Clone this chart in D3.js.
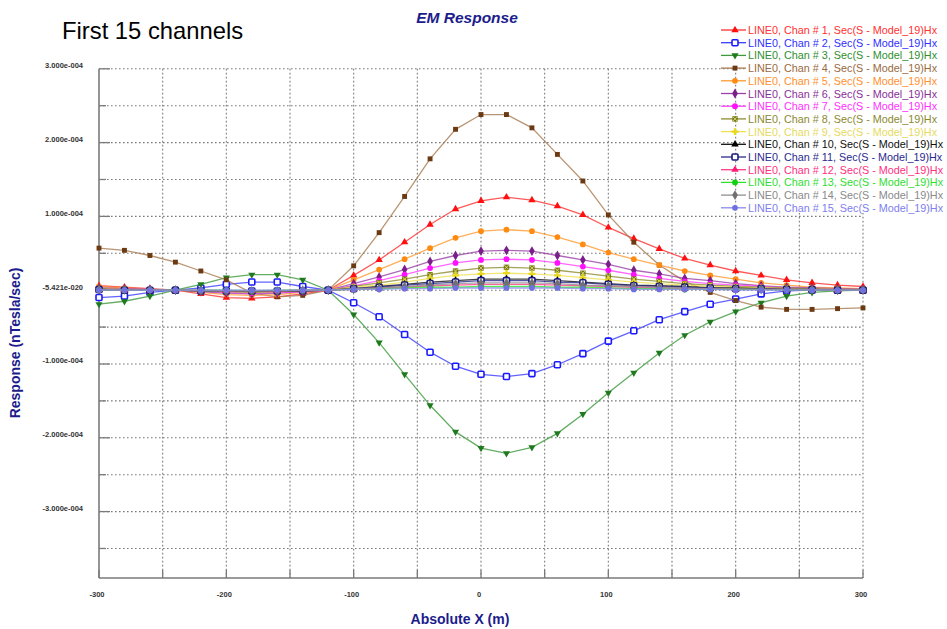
<!DOCTYPE html>
<html>
<head>
<meta charset="utf-8">
<script src="https://cdn.jsdelivr.net/npm/d3@7"></script>
<style>
  html, body { margin: 0; padding: 0; background: #fff; }
  svg { display: block; }
</style>
</head>
<body>
<svg id="chart" width="947" height="629"></svg>
<script>
// Profile positions (m)
const xPositions = [-300,-280,-260,-240,-220,-200,-180,-160,-140,-120,-100,-80,-60,-40,-20,0,20,40,60,80,100,120,140,160,180,200,220,240,260,280,300];

// Secondary Hx response per channel, in units of 1e-4 nT/s
const chan1  = [0.06,0.04,0.02,0.00,-0.05,-0.10,-0.11,-0.09,-0.05,0.00,0.20,0.41,0.65,0.89,1.10,1.21,1.26,1.22,1.14,1.02,0.85,0.70,0.56,0.43,0.34,0.26,0.20,0.14,0.10,0.07,0.05];
const chan2  = [-0.10,-0.08,-0.03,0.00,0.03,0.08,0.11,0.11,0.05,0.00,-0.17,-0.36,-0.60,-0.84,-1.03,-1.14,-1.17,-1.13,-1.01,-0.86,-0.69,-0.55,-0.40,-0.29,-0.19,-0.12,-0.05,-0.01,0.00,0.00,0.00];
const chan3  = [-0.19,-0.15,-0.08,0.00,0.08,0.17,0.21,0.21,0.14,0.00,-0.33,-0.71,-1.14,-1.56,-1.92,-2.14,-2.21,-2.13,-1.94,-1.68,-1.39,-1.12,-0.85,-0.61,-0.43,-0.29,-0.17,-0.08,-0.03,-0.01,0.00];
const chan4  = [0.57,0.54,0.47,0.38,0.26,0.14,-0.04,-0.09,-0.07,0.00,0.33,0.78,1.27,1.78,2.18,2.38,2.38,2.20,1.84,1.48,1.02,0.65,0.34,0.12,-0.03,-0.14,-0.23,-0.26,-0.26,-0.25,-0.24];
const chan5  = [0.05,0.03,0.01,0.00,-0.03,-0.06,-0.07,-0.06,-0.03,0.00,0.14,0.28,0.42,0.57,0.71,0.80,0.82,0.80,0.72,0.62,0.51,0.42,0.34,0.26,0.20,0.15,0.10,0.07,0.04,0.03,0.02];
const chan6  = [0.03,0.02,0.01,0.00,-0.02,-0.04,-0.05,-0.04,-0.02,0.00,0.09,0.18,0.28,0.39,0.47,0.53,0.54,0.53,0.47,0.41,0.35,0.27,0.22,0.16,0.13,0.09,0.06,0.04,0.03,0.02,0.01];
const chan7  = [0.02,0.01,0.01,0.00,-0.01,-0.03,-0.04,-0.03,-0.02,0.00,0.06,0.13,0.21,0.30,0.37,0.41,0.42,0.41,0.37,0.32,0.27,0.21,0.16,0.12,0.09,0.07,0.05,0.03,0.02,0.01,0.01];
const chan8  = [0.02,0.01,0.00,0.00,-0.01,-0.02,-0.03,-0.02,-0.01,0.00,0.05,0.10,0.15,0.21,0.26,0.30,0.31,0.30,0.27,0.23,0.19,0.15,0.12,0.09,0.07,0.05,0.04,0.03,0.02,0.01,0.01];
const chan9  = [0.01,0.01,0.00,0.00,-0.01,-0.02,-0.02,-0.02,-0.01,0.00,0.04,0.07,0.11,0.16,0.20,0.22,0.23,0.22,0.20,0.17,0.14,0.11,0.09,0.07,0.05,0.04,0.03,0.02,0.01,0.01,0.00];
const chan10 = [0.01,0.00,0.00,0.00,-0.01,-0.01,-0.02,-0.01,-0.01,0.00,0.02,0.05,0.08,0.11,0.13,0.15,0.15,0.15,0.13,0.11,0.09,0.07,0.06,0.05,0.03,0.03,0.02,0.01,0.01,0.00,0.00];
const chan11 = [0.01,0.00,0.00,0.00,-0.01,-0.01,-0.01,-0.01,-0.01,0.00,0.02,0.04,0.07,0.09,0.11,0.13,0.13,0.13,0.11,0.10,0.08,0.06,0.05,0.04,0.03,0.02,0.02,0.01,0.01,0.00,0.00];
const chan12 = [0.00,0.00,0.00,0.00,0.00,-0.01,-0.01,-0.01,0.00,0.00,0.01,0.03,0.04,0.06,0.07,0.08,0.08,0.08,0.07,0.06,0.05,0.04,0.03,0.02,0.02,0.01,0.01,0.01,0.00,0.00,0.00];
const chan13 = [0.00,0.00,0.00,0.00,0.00,0.00,-0.01,0.00,0.00,0.00,0.01,0.02,0.03,0.04,0.04,0.05,0.05,0.05,0.04,0.04,0.03,0.02,0.02,0.01,0.01,0.01,0.01,0.00,0.00,0.00,0.00];
const chan14 = [0.01,0.00,0.00,0.00,-0.01,-0.01,-0.01,-0.01,0.00,0.00,0.02,0.03,0.05,0.07,0.09,0.10,0.10,0.10,0.09,0.07,0.06,0.05,0.04,0.03,0.02,0.02,0.01,0.01,0.01,0.00,0.00];
const chan15 = [0.00,0.00,0.00,0.00,0.00,0.00,0.00,0.00,0.00,0.00,0.01,0.01,0.02,0.02,0.03,0.03,0.03,0.03,0.03,0.02,0.02,0.01,0.01,0.01,0.01,0.00,0.00,0.00,0.00,0.00,0.00];

const channelValues = [chan1,chan2,chan3,chan4,chan5,chan6,chan7,chan8,chan9,chan10,chan11,chan12,chan13,chan14,chan15];
const channelNames = channelValues.map((_, i) => `LINE0, Chan # ${i + 1}, Sec(S - Model_19)Hx`);

// Axis ticks (value in 1e-4 units) and their printed labels
const yTickValues = [3, 2, 1, 0, -1, -2, -3];
const yTickLabels = ["3.000e-004", "2.000e-004", "1.000e-004", "-5.421e-020", "-1.000e-004", "-2.000e-004", "-3.000e-004"];
const yMinorValues = [2.5, 1.5, 0.5, -0.5, -1.5, -2.5, -3.5];
const xTickValues = [-300, -250, -200, -150, -100, -50, 0, 50, 100, 150, 200, 250, 300];
const xLabelValues = [-300, -200, -100, 0, 100, 200, 300];

// Per-channel styling
const lineColors   = ["#ff3030","#3b3bff","#3c9a3c","#a87a50","#ff9a30","#9a40a8","#ff40ff","#8c8c30","#f0e050","#101010","#2a2a90","#ff3a8a","#30e030","#909090","#8a8aee"];
const markerColors = ["#ff1010","#1a1aff","#1f7a1f","#6b3a12","#ff8a10","#7a1f8a","#ff10ff","#7a7a10","#e8d820","#000000","#1a1a80","#ff1a78","#10d010","#707070","#7070e0"];
const textColors   = ["#ff3030","#3030ff","#2f8f2f","#9a6a40","#ff9030","#8a3098","#ff30ff","#8a8a30","#e6da60","#101010","#2a2a90","#ff3080","#30dd30","#8a8a8a","#8080ee"];
const markerKinds  = ["triangle","openSquare","triangleDown","square","circle","diamond","circle","xsquare","cross","triangle","openSquare","triangle","circle","diamond","circle"];

const svg = d3.select("#chart");
const x = d3.scaleLinear().domain([-300, 300]).range([99, 863]);
const y = d3.scaleLinear().domain([-3.9, 3.0]).range([578, 68.8]);

const navy = "#1c1c8c";

// Dotted grid
const grid = svg.append("g").attr("stroke", "#7a7a7a").attr("stroke-width", 1.1)
  .attr("stroke-dasharray", "1.6,2.4").attr("fill", "none");
const yGrid = yTickValues.concat(yMinorValues);
grid.selectAll("line.h").data(yGrid).join("line").attr("class", "h")
  .attr("x1", x(-300)).attr("x2", x(300))
  .attr("y1", d => y(d)).attr("y2", d => y(d));
grid.selectAll("line.v").data(xTickValues.filter(d => d > -300)).join("line").attr("class", "v")
  .attr("x1", d => x(d)).attr("x2", d => x(d))
  .attr("y1", y(3)).attr("y2", y(-3.9));

// Axes frame: solid left and bottom
const axisColor = "#7a7a7a";
svg.append("line").attr("x1", x(-300)).attr("x2", x(-300)).attr("y1", y(3)).attr("y2", y(-3.9))
  .attr("stroke", axisColor).attr("stroke-width", 1.6);
svg.append("line").attr("x1", x(-300)).attr("x2", x(300)).attr("y1", y(-3.9)).attr("y2", y(-3.9))
  .attr("stroke", axisColor).attr("stroke-width", 1.6);

// Inward tick marks
const ticks = svg.append("g").attr("stroke", axisColor).attr("stroke-width", 1.3);
ticks.selectAll("line.ym").data(yTickValues).join("line").attr("class", "ym")
  .attr("x1", x(-300)).attr("x2", x(-300) + 11).attr("y1", d => y(d)).attr("y2", d => y(d));
ticks.selectAll("line.yn").data(yMinorValues).join("line").attr("class", "yn")
  .attr("x1", x(-300)).attr("x2", x(-300) + 7).attr("y1", d => y(d)).attr("y2", d => y(d));
ticks.selectAll("line.xt").data(xTickValues).join("line").attr("class", "xt")
  .attr("x1", d => x(d)).attr("x2", d => x(d)).attr("y1", y(-3.9)).attr("y2", y(-3.9) - 8);

// Tick labels
svg.append("g").selectAll("text").data(yTickValues).join("text")
  .attr("x", 83).attr("y", d => y(d) - 0.5)
  .attr("text-anchor", "end")
  .attr("font-family", "Arial, 'Liberation Sans', sans-serif").attr("font-size", 7.5).attr("font-weight", "bold")
  .attr("fill", "#333")
  .text((d, i) => yTickLabels[i]);

svg.append("g").selectAll("text").data(xLabelValues).join("text")
  .attr("x", d => x(d) - 2).attr("y", 597)
  .attr("text-anchor", "middle")
  .attr("font-family", "Arial, 'Liberation Sans', sans-serif").attr("font-size", 7.5).attr("font-weight", "bold")
  .attr("fill", "#333")
  .text(d => d);

// Marker drawing
function drawMarker(g, kind, cx, cy, i) {
  const col = markerColors[i];
  const sym = (type, size) => g.append("path")
    .attr("d", d3.symbol().type(type).size(size)())
    .attr("transform", `translate(${cx},${cy})`).attr("fill", col);
  if (kind === "triangle") sym(d3.symbolTriangle, 24);
  else if (kind === "triangleDown") sym(d3.symbolTriangle, 22).attr("transform", `translate(${cx},${cy}) rotate(180)`);
  else if (kind === "square") sym(d3.symbolSquare, 24);
  else if (kind === "circle") sym(d3.symbolCircle, 26);
  else if (kind === "diamond") sym(d3.symbolDiamond, 28);
  else if (kind === "cross") sym(d3.symbolCross, 26);
  else if (kind === "openSquare") {
    g.append("rect").attr("x", cx - 3).attr("y", cy - 3).attr("width", 6).attr("height", 6)
      .attr("rx", 1).attr("fill", "#fff").attr("stroke", col).attr("stroke-width", 1.6);
  } else if (kind === "xsquare") {
    g.append("rect").attr("x", cx - 2.7).attr("y", cy - 2.7).attr("width", 5.4).attr("height", 5.4)
      .attr("fill", col);
    g.append("path").attr("d", `M${cx - 2.2},${cy - 2.2}L${cx + 2.2},${cy + 2.2}M${cx + 2.2},${cy - 2.2}L${cx - 2.2},${cy + 2.2}`)
      .attr("stroke", "#d8d890").attr("stroke-width", 0.9);
  }
}

// Curves and markers
const line = d3.line().x(d => x(d[0])).y(d => y(d[1]));
const plot = svg.append("g");
channelValues.forEach((vals, i) => {
  const pts = xPositions.map((xv, k) => [xv, vals[k]]);
  const g = plot.append("g");
  g.append("path").datum(pts).attr("d", line)
    .attr("fill", "none").attr("stroke", lineColors[i]).attr("stroke-width", 1.3).attr("stroke-opacity", 0.8);
  pts.forEach(p => drawMarker(g, markerKinds[i], x(p[0]), y(p[1]), i));
});

// Legend
const legend = svg.append("g");
legend.append("rect").attr("x", 746).attr("y", 23).attr("width", 201).attr("height", 190).attr("fill", "#fff");
channelNames.forEach((name, i) => {
  const ry = 30 + i * 12.7;
  const g = legend.append("g");
  g.append("line").attr("x1", 721).attr("x2", 746).attr("y1", ry).attr("y2", ry)
    .attr("stroke", lineColors[i]).attr("stroke-width", 1.3);
  drawMarker(g, markerKinds[i], 735, ry, i);
  g.append("text").attr("x", 748).attr("y", ry + 4)
    .attr("font-family", "Arial, 'Liberation Sans', sans-serif").attr("font-size", 10.8)
    .attr("fill", textColors[i]).text(name);
});

// Titles
svg.append("text").attr("x", 467).attr("y", 23).attr("text-anchor", "middle")
  .attr("font-family", "Arial, 'Liberation Sans', sans-serif").attr("font-size", 15.5)
  .attr("font-weight", "bold").attr("font-style", "italic").attr("fill", navy).text("EM Response");

svg.append("text").attr("x", 62).attr("y", 39)
  .attr("font-family", "Arial, 'Liberation Sans', sans-serif").attr("font-size", 23.8)
  .attr("fill", "#000").text("First 15 channels");

svg.append("text").attr("transform", "translate(20,343) rotate(-90)").attr("text-anchor", "middle")
  .attr("font-family", "Arial, 'Liberation Sans', sans-serif").attr("font-size", 14)
  .attr("font-weight", "bold").attr("fill", navy).text("Response (nTesla/sec)");

svg.append("text").attr("x", 460).attr("y", 624).attr("text-anchor", "middle")
  .attr("font-family", "Arial, 'Liberation Sans', sans-serif").attr("font-size", 14)
  .attr("font-weight", "bold").attr("fill", navy).text("Absolute X (m)");
</script>
</body>
</html>
